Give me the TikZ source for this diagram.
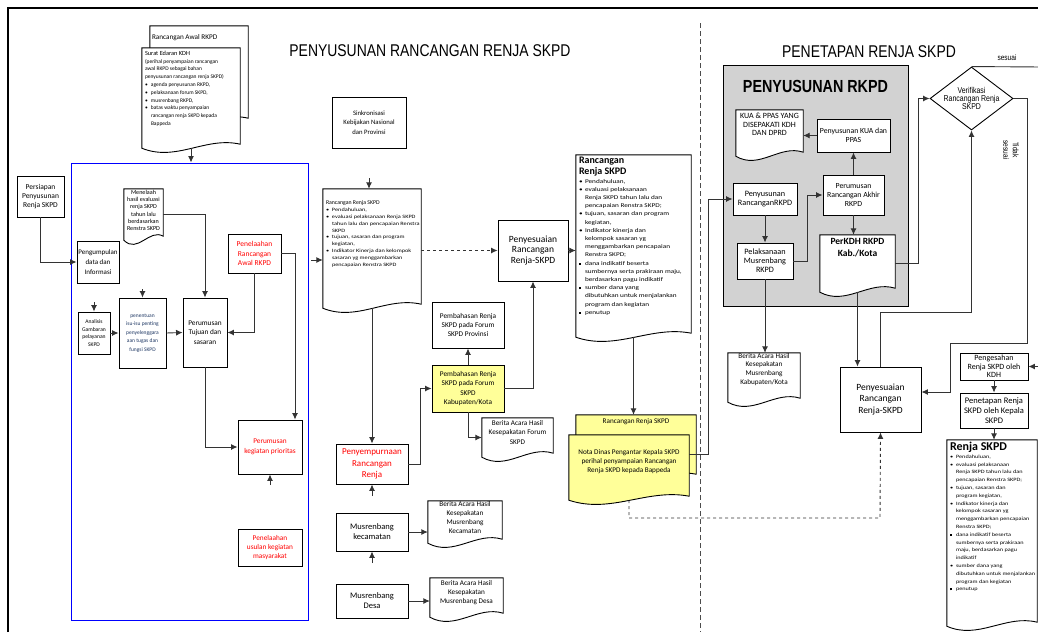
\documentclass[tikz,border=0pt]{standalone}
\usepackage{fontspec}
\setmainfont{Carlito}
\newfontfamily\widefont{Carlito}[FakeStretch=1.25]
\newfontfamily\titlefont{Liberation Sans}[FakeStretch=0.82]
\usepackage{tikz}
\usetikzlibrary{calc, positioning, shapes.geometric, backgrounds, arrows.meta}

\definecolor{yel}{HTML}{FFFF99}
\definecolor{navy}{HTML}{1F3864}
\newcommand\fsz[2]{\fontsize{#1}{#2}\selectfont}
\newcommand\lft{\rightskip=0pt plus 1fil\leftskip=3pt}
\newcommand\itm{\par\hangindent=6pt\hangafter=1\noindent\makebox[6pt][l]{\textbullet}}
\newcommand\sqi{\par\hangindent=6pt\hangafter=1\noindent\makebox[6pt][l]{\rule[0.4pt]{2.2pt}{2.2pt}}}
\newcommand\docshape[2][white]{%
  \begin{scope}[on background layer]
    \draw[line width=0.9pt, fill=#1] (#2.north west) -- (#2.north east) -- ([yshift=4pt]#2.south east)
      .. controls ($(#2.south west)!0.65!(#2.south east)+(0,12pt)$) and ($(#2.south west)!0.35!(#2.south east)+(0,-14pt)$) .. (#2.south west) -- cycle;
  \end{scope}}

\begin{document}
\begin{tikzpicture}[x=1pt, y=-1pt, >={Latex[length=6.5pt,width=6pt]},
  box/.style n args={3}{draw=black, fill=white, line width=0.9pt, align=center, inner sep=0pt,
    minimum width=#1pt, minimum height=#2pt, font=#3},
  doc/.style n args={3}{inner sep=0pt, font=#3,
    execute at begin node={\begin{minipage}[c][#2pt][t]{#1pt}}, execute at end node={\end{minipage}}},
  conn/.style={draw=black!80, line width=0.9pt}]
  \useasboundingbox (0,0) rectangle (1038,632);
  \begin{scope}[on background layer]
    \node[draw=black, fill=gray!35, line width=0.9pt, minimum width=185pt, minimum height=241pt] (rkpd) at (815.5,185.5) {};
  \end{scope}
  \draw[line width=1.8pt] (8,632) -- (8,8) -- (1038,8);
  \draw[dashed, line width=0.9pt, black!70, dash pattern=on 5pt off 3pt] (700,23) -- (700,632);

  \node[font=\titlefont\fsz{17}{18}] (t1) at (430,51) {PENYUSUNAN RANCANGAN RENJA SKPD};
  \node[font=\titlefont\fsz{17}{18}] (t2) at (869,52) {PENETAPAN RENJA SKPD};
  \node[font=\titlefont\bfseries\fsz{17.5}{18}] (rkpdT) at (815.5,86) {PENYUSUNAN RKPD};

  % persiapan
  \node[doc={98}{96}{\fsz{7.2}{8}}] (awal) at (199,74) {\vspace*{8pt}\hspace*{2pt}Rancangan Awal RKPD\par};
  \docshape{awal}
  \node[doc={98}{100}{\fsz{5.5}{7.8}}] (surat) at (191,98) {\lft\vspace*{3pt}{\fsz{6.3}{7.8}Surat Edaran KDH\par}(perihal penyampaian rancangan\\ awal RKPD sebagai bahan\\ penyusunan rancangan renja SKPD)\itm agenda penyusunan RKPD, \itm pelaksanaan forum SKPD, \itm musrenbang RKPD, \itm batas waktu penyampaian\\ rancangan renja SKPD kepada\\ Bappeda\par};
  \docshape{surat}
  \node[draw=blue, line width=1pt, minimum width=237pt, minimum height=457pt] (blue) at (189.5,391.5) {};
  \node[box={47}{41}{\fsz{7.5}{9}}] (pers) at (40.5,196.5) {Persiapan\\Penyusunan\\Renja SKPD};
  \node[box={42}{42}{\fsz{7}{10}}] (pengum) at (98,262) {Pengumpulan\\data dan\\Informasi};
  \node[doc={39}{51}{\fsz{6.1}{7.3}}] (telaah) at (143.5,214.5) {\centering\vspace*{1pt}Menelaah\\hasil evaluasi\\renja SKPD\\tahun lalu\\berdasarkan\\Renstra SKPD\par};
  \docshape{telaah}
  \node[box={53}{39}{\fsz{7.5}{9.5}}, text=red] (penel) at (254.5,253.5) {Penelaahan\\Rancangan\\Awal RKPD};
  \node[box={32}{42}{\fsz{5.6}{7.5}}] (anal) at (94,333) {Analisis\\Gambaran\\pelayanan\\SKPD};
  \node[box={47}{70}{\fsz{5.5}{8.5}}, text=navy] (penen) at (142.5,333) {penentuan\\isu-isu penting\\penyelenggara\\aan tugas dan\\fungsi SKPD};
  \node[box={44}{69}{\fsz{7.3}{9.3}}] (tujuan) at (205,332.5) {Perumusan\\Tujuan dan\\sasaran};
  \node[box={64}{54}{\fsz{7.3}{10}}, text=red] (prior) at (270,447) {Perumusan\\kegiatan prioritas};
  \node[box={64}{37}{\fsz{7.3}{9.2}}, text=red] (usul) at (270,547.5) {Penelaahan\\usulan kegiatan\\masyarakat};

  % rancangan renja
  \node[box={74}{51}{\fsz{6.7}{9.5}}] (sink) at (369,122.5) {Sinkronisasi\\Kebijakan Nasional\\dan Provinsi};
  \node[doc={98}{119}{\fsz{5.8}{6.8}}] (rrs) at (372,248.5) {\lft\vspace*{12pt}Rancangan Renja SKPD\par{\widefont\fsz{5}{6.8}\itm Pendahuluan, \itm evaluasi pelaksanaan Renja SKPD\\ tahun lalu dan pencapaian Renstra\\ SKPD \itm tujuan, sasaran dan program\\ kegiatan, \itm Indikator Kinerja dan kelompok\\ sasaran yg menggambarkan\\ pencapaian Renstra SKPD\par}};
  \docshape{rrs}
  \node[box={70}{61}{\fsz{9.5}{10.5}}] (peny1) at (533,250.5) {Penyesuaian\\Rancangan\\Renja-SKPD};
  \node[doc={115}{182}{\bfseries\fsz{10}{11.5}}] (bigrrs) at (633.5,246) {\lft\vspace*{2pt}Rancangan\\Renja SKPD\par{\widefont\mdseries\fsz{5.8}{8.2}\itm Pendahuluan, \itm evaluasi pelaksanaan\\ Renja SKPD tahun lalu dan\\ pencapaian Renstra SKPD; \itm tujuan, sasaran dan program\\ kegiatan, \itm Indikator kinerja dan\\ kelompok sasaran yg\\ menggambarkan pencapaian\\ Renstra SKPD; \sqi dana indikatif beserta\\ sumbernya serta prakiraan maju,\\ berdasarkan pagu indikatif \sqi sumber dana yang\\ dibutuhkan untuk menjalankan\\ program dan kegiatan \sqi penutup\par}};
  \docshape{bigrrs}
  \node[box={72}{46}{\fsz{7.3}{9.2}}] (prov) at (468,325) {Pembahasan Renja\\SKPD pada Forum\\SKPD Provinsi};
  \node[box={72}{47}{\fsz{7.3}{9.5}}, fill=yel] (kab) at (468,388.5) {Pembahasan Renja\\SKPD pada Forum\\SKPD\\Kabupaten/Kota};
  \node[doc={71}{39}{\fsz{7.2}{9.5}}] (bafor) at (517.5,437.5) {\centering\vspace*{2pt}Berita Acara Hasil\\Kesepakatan Forum\\SKPD\par};
  \docshape{bafor}
  \node[box={72}{40}{\fsz{9}{11.5}}, text=red] (sempurna) at (372,464) {Penyempurnaan\\Rancangan\\Renja};
  \node[box={72}{38}{\fsz{8.5}{10}}] (kec) at (372,532) {Musrenbang\\kecamatan};
  \node[doc={74}{42}{\fsz{7.2}{9}}] (bakec) at (465,522) {\centering Berita Acara Hasil\\Kesepakatan\\Musrenbang\\Kecamatan\par};
  \docshape{bakec}
  \node[box={72}{34}{\fsz{8.5}{10}}] (desa) at (372,601) {Musrenbang\\Desa};
  \node[doc={73}{39}{\fsz{7.2}{9}}] (badesa) at (466.5,597.5) {\centering\vspace*{2pt}Berita Acara Hasil\\Kesepakatan\\Musrenbang Desa\par};
  \docshape{badesa}
  \node[doc={120}{63}{\fsz{7.2}{8}}] (rrsY) at (636,446.5) {\centering\vspace*{4pt}Rancangan Renja SKPD\par};
  \docshape[yel]{rrsY}
  \node[doc={120}{65}{\fsz{7.2}{9}}] (nota) at (629,467.5) {\centering\vspace*{14pt}Nota Dinas Pengantar Kepala SKPD\\perihal penyampaian Rancangan\\Renja SKPD kepada Bappeda\par};
  \docshape[yel]{nota}

  % penetapan
  \node[doc={67}{46}{\fsz{8}{8.7}}] (kua) at (769.5,133) {\centering\vspace*{3pt}KUA \& PPAS YANG\\DISEPAKATI KDH\\DAN DPRD\par};
  \docshape{kua}
  \node[box={73}{33}{\fsz{7.8}{9.5}}] (kuabox) at (853.5,135.5) {Penyusunan KUA dan\\PPAS};
  \node[box={61}{40}{\fsz{7.8}{9.3}}] (akhir) at (853.5,195) {Perumusan\\Rancangan Akhir\\RKPD};
  \node[box={64}{32}{\fsz{8.2}{9}}] (rrkpd) at (765,199) {Penyusunan\\RancanganRKPD};
  \node[box={56}{36}{\fsz{8.2}{9}}] (musrkpd) at (765,261) {Pelaksanaan\\Musrenbang\\RKPD};
  \node[doc={75}{57}{\bfseries\fsz{9.5}{12.5}}] (perkdh) at (857.5,263.5) {\centering\vspace*{3pt}PerKDH RKPD\\Kab./Kota\par};
  \docshape{perkdh}
  \node[doc={72}{49}{\fsz{7.2}{8.7}}] (bakab) at (764,377.5) {\centering Berita Acara Hasil\\Kesepakatan\\Musrenbang\\Kabupaten/Kota\par};
  \docshape{bakab}
  \node[box={81}{65}{\fsz{9.5}{11.5}}] (peny2) at (880.5,399.5) {Penyesuaian\\Rancangan\\Renja-SKPD};
  \node[draw=black, fill=white, line width=0.9pt, diamond, aspect=1.3, inner sep=-3pt, minimum width=83pt, minimum height=63pt,
    align=center, font=\titlefont\fsz{8.5}{8.3}] (verif) at (971.5,98.5) {Verifikasi\\Rancangan Renja\\SKPD};
  \node[font=\titlefont\fsz{8}{9}] (lsesuai) at (1007,58) {sesuai};
  \node[font=\titlefont\fsz{8}{9.5}, rotate=-90, align=center] (ltidak) at (1011,150) {Tidak\\sesuai};
  \node[box={68}{27}{\fsz{8}{8.5}}] (sah) at (994,366.5) {Pengesahan\\Renja SKPD oleh\\KDH};
  \node[box={68}{35}{\fsz{8.5}{10}}] (tetap) at (994,410.5) {Penetapan Renja\\SKPD oleh Kepala\\SKPD};
  \node[doc={90}{186}{\bfseries\fsz{12}{13}}] (renja) at (992,533) {\lft\vspace*{2pt}Renja SKPD\par{\widefont\mdseries\fsz{5}{7.8}\itm Pendahuluan, \itm evaluasi pelaksanaan\\ Renja SKPD tahun lalu dan\\ pencapaian Renstra SKPD; \itm tujuan, sasaran dan\\ program kegiatan, \itm Indikator kinerja dan\\ kelompok sasaran yg\\ menggambarkan pencapaian\\ Renstra SKPD; \sqi dana indikatif beserta\\ sumbernya serta prakiraan\\ maju, berdasarkan pagu\\ indikatif \itm sumber dana yang\\ dibutuhkan untuk menjalankan\\ program dan kegiatan \sqi penutup\par}};
  \docshape{renja}

  \coordinate (ain) at (94,302);
  \coordinate (pin) at (142.5,289);
  \coordinate (qin) at (270,485);
  \coordinate (bin) at (311,260);
  \coordinate (rin) at (369,178);
  \coordinate (sin) at (372,496);
  \coordinate (kin) at (372,563);
  \coordinate (nk) at (708,454);
  \coordinate (dsh) at (880,518);
  \coordinate (ts1) at (1027,343);
  \coordinate (ts2) at (950,392);
  \coordinate (hin) at (1042,366.5);
  \coordinate (send) at (1042,67);

  \draw[conn,->] (surat.south) -- (surat.south |- blue.north);
  \draw[conn,->] (pers.south) |- (pengum.west);
  \draw[conn,->] (telaah.east) -| (tujuan.north);
  \draw[conn,->] (penel.east) -| ([xshift=25pt]prior.north);
  \draw[conn,->] (penel.south) |- (tujuan.east);
  \draw[conn,->] (anal.east) -- (penen.west);
  \draw[conn,->] (penen.east) -- (tujuan.west);
  \draw[conn,->] (tujuan.south) |- (prior.west);
  \draw[conn,->] (ain) -- (anal.north);
  \draw[conn,->] (pin) -- (penen.north);
  \draw[conn,->] (qin) -- (prior.south);
  \draw[conn,->] (bin) -- (bin -| rrs.west);
  \draw[conn,->] (rin) -- (rin |- rrs.north);
  \draw[conn,dashed,->] (rrs.east |- peny1.west) -- (peny1.west);
  \draw[conn,->] (peny1.east) -- (peny1.east -| bigrrs.west);
  \draw[conn,->] (rrs.south) -- (sempurna.north);
  \draw[conn,->] (sempurna.east) -- ++(12,0) |- (kab.west);
  \draw[conn,->] (kab.north) -- (prov.south);
  \draw[conn,->] (kab.south) |- (bafor.west);
  \draw[conn,->] (kab.east) -| (peny1.south);
  \draw[conn,->] (sin) -- (sempurna.south);
  \draw[conn,->] (kin) -- (kec.south);
  \draw[conn,->] (kec.east) -- (kec.east -| bakec.west);
  \draw[conn,->] (desa.east) -- (desa.east -| badesa.west);
  \draw[conn,->] (bigrrs.south) -- (bigrrs.south |- rrsY.north);
  \draw[conn,->] (nk -| nota.east) -- (nk) |- (rrkpd.west);
  \draw[conn,dashed,->] (nota.south) |- (dsh) -- (peny2.south);
  \draw[conn,->] (kuabox.west) -- (kuabox.west -| kua.east);
  \draw[conn,->] (akhir.north) -- (kuabox.south);
  \draw[conn,->] (rrkpd.south) -- (musrkpd.north);
  \draw[conn,->] (musrkpd.east) -- ++(14,0) |- (akhir.west);
  \draw[conn,->] (akhir.south) -- (akhir.south |- perkdh.north);
  \draw[conn,->] (musrkpd.south) -- (musrkpd.south |- bakab.north);
  \draw[conn,->] (perkdh.south) -- (perkdh.south |- peny2.north);
  \draw[conn,->] (perkdh.east) -- ++(23,0) |- (verif.west);
  \draw[conn,->] (peny2.north) -- ++(0,-54) -| (verif.south);
  \draw[conn] (verif.north) -- (send);
  \draw[conn,->] (verif.east) -| (ts1) -| (ts2) -- (ts2 -| peny2.east);
  \draw[conn,->] (hin) -- (sah.east);
  \draw[conn,->] (sah.south) -- (tetap.north);
  \draw[conn,->] (tetap.south) -- (tetap.south |- renja.north);
\end{tikzpicture}
\end{document}
